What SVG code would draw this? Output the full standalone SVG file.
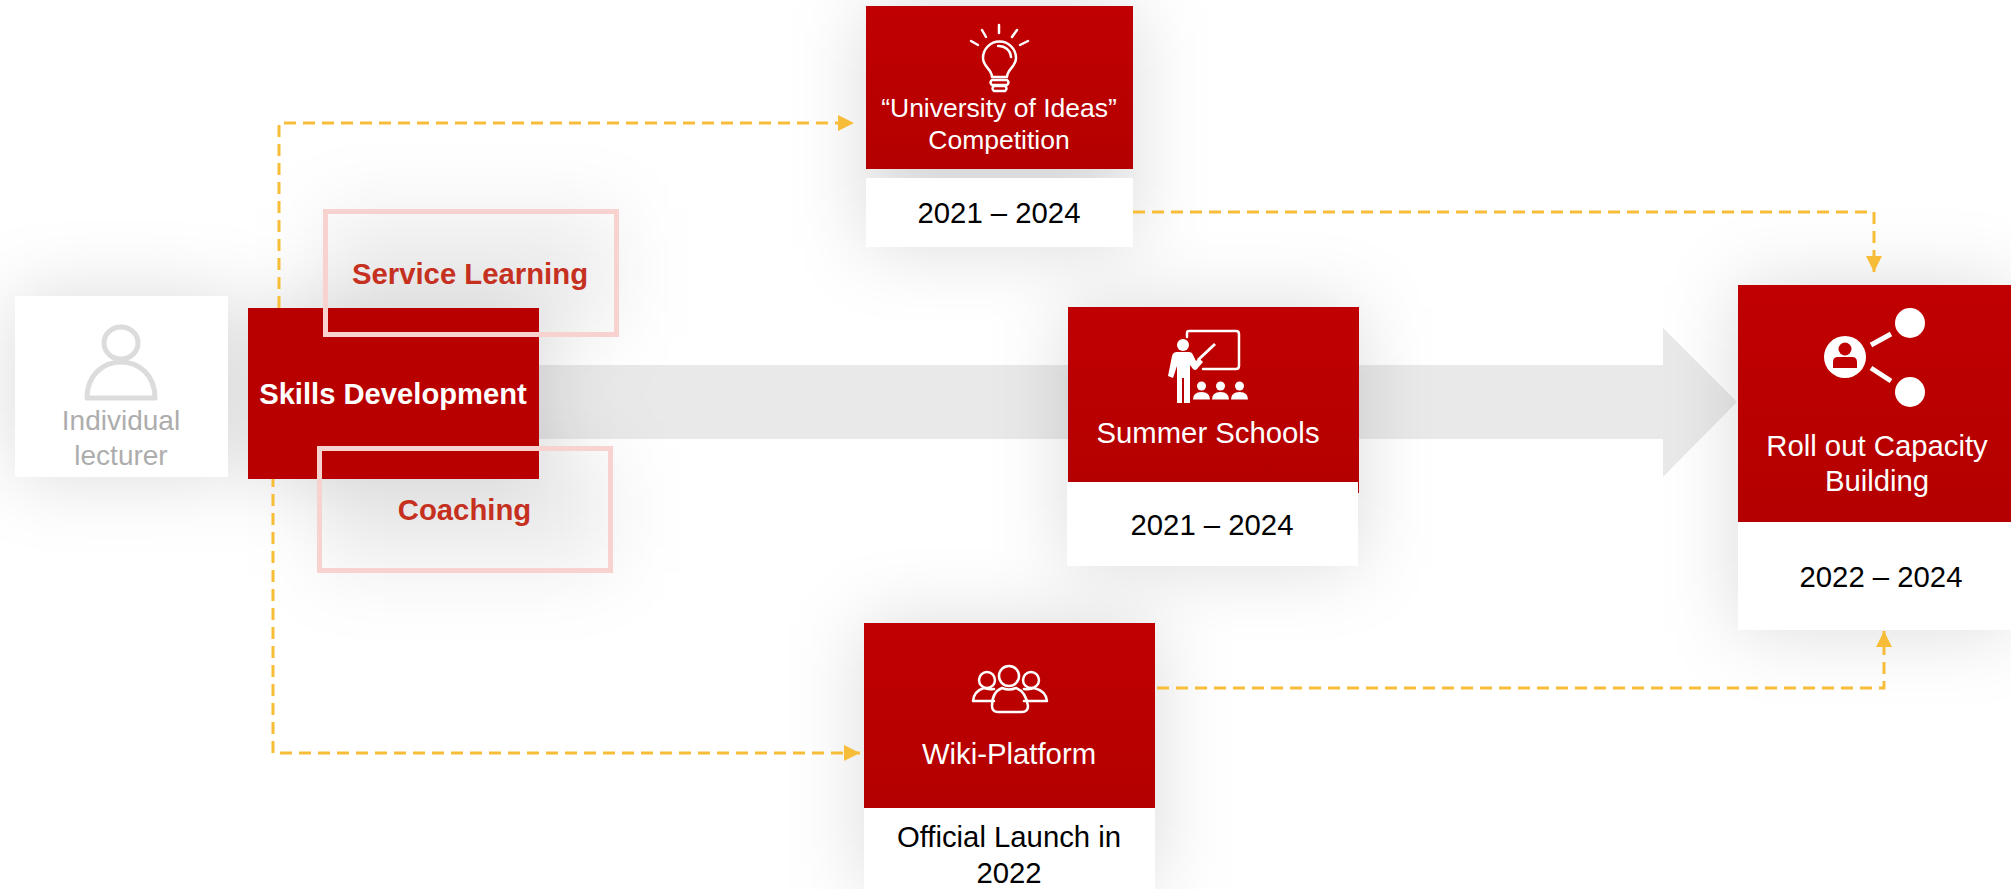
<svg xmlns="http://www.w3.org/2000/svg" width="2011" height="889" viewBox="0 0 2011 889">
<style>
text{font-family:"Liberation Sans",Arial,sans-serif;text-anchor:middle}
.t{fill:#fff;font-size:29.300px}
.u{fill:#fff;font-size:26.500px}
.d{fill:#000;font-size:29.300px}
.b{font-weight:bold;font-size:29.300px;fill:#c5301f}
.g{fill:#adadad;font-size:28px}
.con{fill:none;stroke:#f8bd38;stroke-width:3;stroke-dasharray:12 7}
.ln{fill:none;stroke:#fff;stroke-width:2.500;stroke-linecap:round;stroke-linejoin:round}
.fr{fill:none;stroke:#f8d2cf;stroke-width:5}
</style>
<defs>
<linearGradient id="red" x1="0" y1="0" x2="0" y2="1"><stop offset="0" stop-color="#c00000"/><stop offset="1" stop-color="#b40000"/></linearGradient>
<filter id="sh" x="-60%" y="-60%" width="220%" height="220%"><feGaussianBlur stdDeviation="38"/></filter>
<marker id="ah" markerUnits="userSpaceOnUse" markerWidth="16" markerHeight="16" refX="16" refY="8" orient="auto"><path d="M0 0L16 8L0 16Z" fill="#f8bd38"/></marker>
</defs>
<rect width="2011" height="889" fill="#fff"/>
<g id="shadows" filter="url(#sh)" fill="#000" fill-opacity=".14">
<rect x="15" y="296" width="213" height="181"/>
<rect x="248" y="308" width="291" height="171"/>
<rect x="323" y="209" width="296" height="128" fill-opacity=".07"/>
<rect x="317" y="446" width="296" height="127" fill-opacity=".07"/>
<rect x="866" y="6" width="267" height="241"/>
<rect x="1067" y="307" width="291" height="259"/>
<rect x="864" y="623" width="291" height="266"/>
<rect x="1738" y="285" width="273" height="345"/>
</g>
<g id="big-arrow"><path d="M539 365H1663V328L1737 402L1663 477V439H539Z" fill="#000" fill-opacity=".085"/></g>
<g id="connectors">
<path class="con" d="M279 308V123H854" marker-end="url(#ah)"/>
<path class="con" d="M1133 212H1874V272" marker-end="url(#ah)"/>
<path class="con" d="M273 475V753H860" marker-end="url(#ah)"/>
<path class="con" d="M1157 688H1884V631" marker-end="url(#ah)"/>
</g>
<g id="lecturer">
<rect x="15" y="296" width="213" height="181" fill="#fff"/>
<ellipse cx="121" cy="343" rx="17" ry="16" fill="none" stroke="#dcdcdc" stroke-width="5"/>
<path d="M87 398C87 375 103 362 121 362C139 362 155 375 155 398Z" fill="none" stroke="#dcdcdc" stroke-width="5" stroke-linejoin="round"/>
<text class="g" x="121" y="430">Individual</text>
<text class="g" x="121" y="465">lecturer</text>
</g>
<g id="skills">
<rect x="248" y="308" width="291" height="171" fill="#b80000"/>
<text x="393" y="404" fill="#fff" font-weight="bold" font-size="29.200">Skills Development</text>
</g>
<g id="service-learning">
<rect class="fr" x="325.500" y="211.500" width="291" height="123"/>
<text class="b" x="470" y="284">Service Learning</text>
</g>
<g id="coaching">
<rect class="fr" x="319.500" y="448.500" width="291" height="122"/>
<text class="b" x="464.500" y="520">Coaching</text>
</g>
<g id="university">
<rect x="866" y="6" width="267" height="163" fill="url(#red)"/>
<rect x="866" y="178" width="267" height="69" fill="#fff"/>
<path class="ln" d="M999 25V33M982 30L986 37M1017 30L1012 37M971 41L978 45M1028 41L1020 45"/>
<path class="ln" d="M992 77C992 69 983 67 983 58A16.500 16.500 0 1 1 1016 58C1016 67 1007 69 1007 77Z"/>
<path class="ln" d="M998 46A12 12 0 0 1 1011 57" stroke-width="2"/>
<path class="ln" d="M992 80H1007Q1010 82.500 1007 85H992Q989 82.500 992 80ZM994 86H1005Q1008 88.500 1005 91H994Q991 88.500 994 86Z" stroke-width="2"/>
<text class="u" x="999" y="117">“University of Ideas”</text>
<text class="u" x="999" y="149">Competition</text>
<text class="d" x="999" y="223">2021 – 2024</text>
</g>
<g id="summer">
<rect x="1068" y="307" width="291" height="186" fill="url(#red)"/>
<rect x="1067" y="482" width="291" height="84" fill="#fff"/>
<path class="ln" stroke-width="3" d="M1187 337V333Q1187 331 1189 331H1236Q1239 331 1239 334V366Q1239 369 1236 369H1203"/>
<path d="M1214 343L1216 345L1199 361L1197 359Z" fill="#fff"/>
<circle cx="1183" cy="345" r="6" fill="#fff"/>
<path d="M1177 352H1189Q1192 352 1193 355L1196 361L1199 358L1203 362L1197 369Q1195 371 1193 369L1190 365V403H1184V378H1182V403H1177V366L1173 378L1168 376L1172 356Q1173 352 1177 352Z" fill="#fff"/>
<g fill="#fff"><circle cx="1201.500" cy="386" r="4.500"/><circle cx="1220.500" cy="386" r="4.500"/><circle cx="1239.500" cy="386" r="4.500"/><path d="M1193 399.500Q1193 392 1201.500 392Q1210 392 1210 399.500ZM1212 399.500Q1212 392 1220.500 392Q1229 392 1229 399.500ZM1231 399.500Q1231 392 1239.500 392Q1248 392 1248 399.500Z"/></g>
<text class="t" x="1208" y="443">Summer Schools</text>
<text class="d" x="1212" y="535">2021 – 2024</text>
</g>
<g id="wiki">
<rect x="864" y="623" width="291" height="185" fill="url(#red)"/>
<rect x="864" y="808" width="291" height="81" fill="#fff"/>
<g class="ln"><circle cx="1009" cy="676" r="10"/><circle cx="987" cy="680" r="8"/><circle cx="1031" cy="680" r="8"/><path d="M992 706Q992 692 1002 688Q1009 691 1016 688Q1026 692 1028 706Q1028 712 1022 712H998Q992 712 992 706ZM994 701H973Q974 691 984 688Q988 690 994 689M1024 701H1047Q1046 691 1034 688Q1030 690 1024 689"/></g>
<text class="t" x="1009" y="764">Wiki-Platform</text>
<text class="d" x="1009" y="847">Official Launch in</text>
<text class="d" x="1009" y="883">2022</text>
</g>
<g id="rollout">
<rect x="1738" y="285" width="273" height="237" fill="url(#red)"/>
<rect x="1738" y="522" width="273" height="108" fill="#fff"/>
<circle cx="1845" cy="357" r="21" fill="#fff"/>
<circle cx="1910" cy="323" r="15" fill="#fff"/><circle cx="1910" cy="392" r="15" fill="#fff"/>
<path d="M1871 345L1891 334M1871 368L1891 381" stroke="#fff" stroke-width="5" fill="none"/>
<circle cx="1845" cy="349" r="6.500" fill="#c00000"/><path d="M1833 368V362Q1833 357 1838 357H1852Q1857 357 1857 362V368Z" fill="#c00000"/>
<text class="t" x="1877" y="456">Roll out Capacity</text>
<text class="t" x="1877" y="491">Building</text>
<text class="d" x="1881" y="587">2022 – 2024</text>
</g>
</svg>
